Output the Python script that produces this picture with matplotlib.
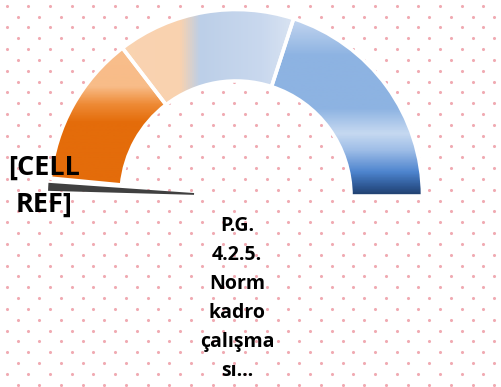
import numpy as np
import matplotlib
matplotlib.use('Agg')
from matplotlib import pyplot as plt
from matplotlib.patches import Wedge
from matplotlib.colors import LinearSegmentedColormap

#%% Gauge data
W, H = 501, 387
band_names = ['low', 'mid', 'high']
band_spans = [47.0, 55.5, 72.0]      # arc per band in degrees, clockwise from the left end
arc_start = 174.5                     # angle where the first band begins
needle_angle = 177.2
needle_width = 2.45
cell_ref_lines = ['[CELL', 'REF]']
title_lines = ['P.G.', '4.2.5.', 'Norm', 'kadro', 'çalışma', 'sı…']

# band fills: (pixel stops, colours, direction of the gradient)
band_fills = {
	'low':  ([0, 86, 104, 122, 387], ['#F8C090', '#F8BC88', '#EE8A35', '#E46C0A', '#E46C0A'], 'v'),
	'mid':  ([0, 180, 200, 262, 295, 501], ['#FBD6B6', '#F9D2AF', '#BCCFE8', '#C9D8EE', '#DAE4F2', '#DAE4F2'], 'h'),
	'high': ([0, 22, 55, 108, 133, 150, 172, 186, 196, 387],
	         ['#BED2EE', '#BED2EE', '#8DB3E2', '#8DB3E2', '#C6D9F1', '#9EBDE7', '#4D84CE', '#2E5894', '#1F3D6A', '#1F3D6A'], 'v'),
}

cx, cy = 236, H - 196
r_out, r_in = 186.5, 115
FONT = ['Open Sans', 'DejaVu Sans']

#%% Figure
fig = plt.figure(figsize=(W / 100, H / 100), dpi=100)
ax = fig.add_axes([0, 0, 1, 1])
ax.set_xlim(0, W); ax.set_ylim(0, H)
ax.axis('off')

# dotted background
dx, dy = 21.67, 10.83
px, py = [], []
for k in range(int(H / dy) + 2):
	y = 5.7 + k * dy
	x0 = 6.7 + (k % 2) * dx / 2
	for x in np.arange(x0, W + 5, dx):
		px.append(x); py.append(H - y)
ax.scatter(px, py, s=5, c='#F0AAB2', linewidths=0, zorder=0)

# coloured bands
t2 = arc_start
for name, span in zip(band_names, band_spans):
	t1 = t2 - span
	w = Wedge((cx, cy), r_out, t1, t2, width=r_out - r_in, facecolor='none', edgecolor='none')
	ax.add_patch(w)
	stops, cols, d = band_fills[name]
	size = H if d == 'v' else W
	cmap = LinearSegmentedColormap.from_list(name, list(zip(np.array(stops) / size, cols)))
	grad = np.linspace(0, 1, 512)
	img = grad[:, None] if d == 'v' else grad[None, :]
	im = ax.imshow(img, extent=[0, W, 0, H], origin='upper', cmap=cmap, aspect='auto', zorder=2)
	im.set_clip_path(w)
	ax.add_patch(Wedge((cx, cy), r_out, t1, t2, width=r_out - r_in, facecolor='none',
	                   edgecolor='white', linewidth=2.6, zorder=3))
	t2 = t1

# needle
ax.add_patch(Wedge((cx, cy), 188, needle_angle - needle_width / 2, needle_angle + needle_width / 2,
                   width=146, facecolor='#404040', edgecolor='none', zorder=4))

# labels
for i, L in enumerate(cell_ref_lines):
	ax.text(44, H - (175 + i * 36.5), L, ha='center', va='baseline', fontsize=19.5,
	        fontweight='bold', family=FONT, color='black', zorder=5)
for i, L in enumerate(title_lines):
	ax.text(237, H - (231 + i * 29.1), L, ha='center', va='baseline', fontsize=14,
	        fontweight='bold', family=FONT, color='black', zorder=5)

ax.set_xlim(0, W); ax.set_ylim(0, H)
fig.savefig('out.png', dpi=100)
